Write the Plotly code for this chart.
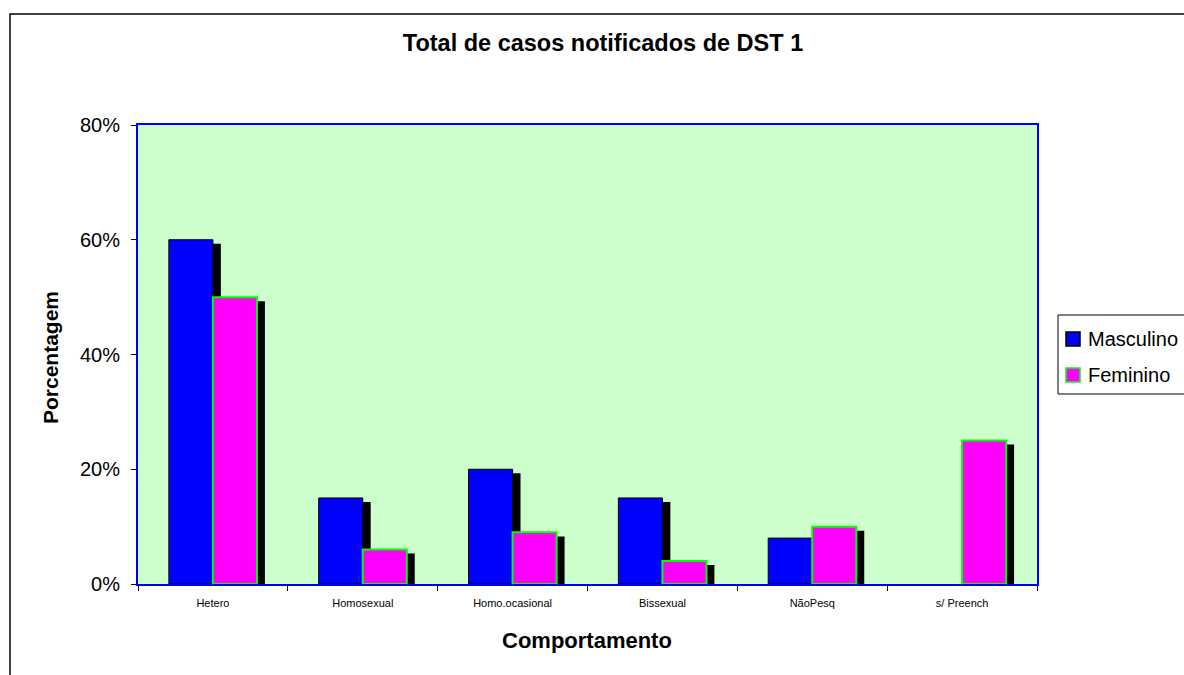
import plotly.graph_objects as go

# dados (porcentagem)
categorias = ['Hetero', 'Homosexual', 'Homo.ocasional', 'Bissexual', 'NãoPesq', 's/ Preench']
masculino = [60, 15, 20, 15, 8, 0]
feminino = [50, 6, 9, 4, 10, 25]
ticks_y = [0, 20, 40, 60, 80]

# geometria das barras (em unidades de categoria)
largura = 0.294
desloc_sombra = 0.053   # sombra deslocada para a direita
queda_sombra = 0.7      # sombra um pouco mais baixa (em %)

fig = go.Figure()

# sombras pretas atras das barras
fig.add_trace(go.Bar(
    x=categorias, y=[max(v - queda_sombra, 0) for v in masculino],
    width=largura, offset=-largura + desloc_sombra,
    marker=dict(color='black', line=dict(width=0)),
    showlegend=False, hoverinfo='skip'
))
fig.add_trace(go.Bar(
    x=categorias, y=masculino, name='Masculino',
    width=largura, offset=-largura,
    marker=dict(color='#0000FF',
                line=dict(color='black', width=[1 if v > 0 else 0 for v in masculino])),
    showlegend=False
))
fig.add_trace(go.Bar(
    x=categorias, y=[max(v - queda_sombra, 0) for v in feminino],
    width=largura, offset=desloc_sombra,
    marker=dict(color='black', line=dict(width=0)),
    showlegend=False, hoverinfo='skip'
))
fig.add_trace(go.Bar(
    x=categorias, y=feminino, name='Feminino',
    width=largura, offset=0,
    marker=dict(color='#FF00FF', line=dict(color='#00FF00', width=2)),
    showlegend=False
))

# posicoes em pixels -> paper
L, R, T, B = 138, 1037, 125, 584
W, H = 1184, 675


def px_x(p):
    return (p - L) / (R - L)


def px_y(p):
    return (B - p) / (B - T)


# legenda desenhada a mao (caixa fora da area do grafico)
legenda = [('Masculino', '#0000FF', 'black', 332), ('Feminino', '#FF00FF', '#00FF00', 368)]
shapes = [
    # moldura externa do grafico
    dict(type='rect', xref='paper', yref='paper',
         x0=px_x(10), y0=px_y(700), x1=px_x(1200), y1=px_y(14),
         line=dict(color='black', width=1.5), layer='below'),
    dict(type='rect', xref='paper', yref='paper',
         x0=px_x(1058), y0=px_y(394), x1=px_x(1200), y1=px_y(315),
         line=dict(color='black', width=1), fillcolor='white'),
]
annotations = [
    dict(text='<b>Porcentagem</b>', textangle=-90, font=dict(size=21),
         xref='paper', yref='paper', x=px_x(50), y=px_y(358),
         xanchor='center', yanchor='middle', showarrow=False),
    dict(text='<b>Comportamento</b>', font=dict(size=22),
         xref='paper', yref='paper', x=px_x(587), y=px_y(640),
         xanchor='center', yanchor='middle', showarrow=False),
]
for nome, cor, borda, topo in legenda:
    shapes.append(dict(type='rect', xref='paper', yref='paper',
                       x0=px_x(1066), x1=px_x(1080), y0=px_y(topo + 14), y1=px_y(topo),
                       fillcolor=cor, line=dict(color=borda, width=1.5)))
    annotations.append(dict(text=nome, font=dict(size=20),
                            xref='paper', yref='paper', x=px_x(1086), y=px_y(topo + 7),
                            xanchor='left', yanchor='middle', showarrow=False))

fig.update_layout(
    width=W, height=H,
    margin=dict(l=L, r=W - R, t=T, b=H - B),
    paper_bgcolor='white',
    plot_bgcolor='#CCFFCC',
    barmode='overlay',
    showlegend=False,
    font=dict(family='Arial, Liberation Sans, sans-serif', color='black'),
    title=dict(
        text='<b>Total de casos notificados de DST 1</b>',
        font=dict(size=23.5),
        x=603 / W, xanchor='center', xref='container',
        y=1 - 43 / H, yanchor='middle', yref='container'
    ),
    xaxis=dict(
        type='category',
        tickson='boundaries',
        ticks='outside', ticklen=5, tickcolor='black',
        tickfont=dict(size=11),
        ticklabelstandoff=8,
        showline=True, linecolor='#0000FF', linewidth=2, mirror=True,
        showgrid=False,
        range=[-0.5, 5.5],
    ),
    yaxis=dict(
        range=[0, 80],
        tickmode='array',
        tickvals=ticks_y,
        ticktext=[f'{v}%' for v in ticks_y],
        ticks='outside', ticklen=5, tickcolor='black',
        tickfont=dict(size=20),
        ticklabelstandoff=7,
        showline=True, linecolor='#0000FF', linewidth=2, mirror=True,
        showgrid=False, zeroline=False,
    ),
    shapes=shapes,
    annotations=annotations,
)

# tira a margem padrao do body para o grafico ficar no canto
fig.write_html("out.html", config={'displayModeBar': False},
               post_script="document.body.style.margin='0';")
